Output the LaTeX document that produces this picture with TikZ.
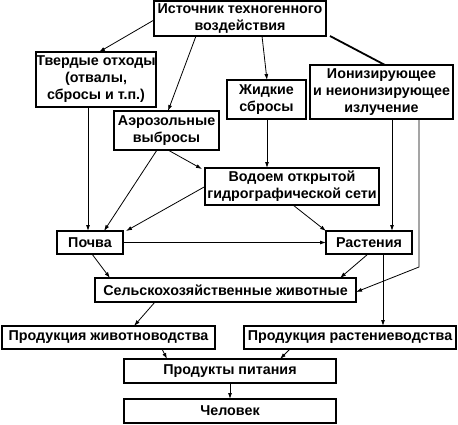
\documentclass[tikz,border=0pt]{standalone}
\usepackage{fontspec}
\setmainfont{Liberation Sans}
\usetikzlibrary{arrows.meta}

\tikzset{
  box/.style={draw, line width=1.8pt, inner sep=0pt, outer sep=0pt, align=center,
    font=\fontsize{14.3}{17}\selectfont\bfseries},
  arr/.style={-{Latex[length=6pt,width=4pt]}, line width=0.8pt},
  thickline/.style={line width=1.8pt}
}

\begin{document}
\begin{tikzpicture}[x=1pt, y=-1pt]
    \useasboundingbox (0,0) rectangle (458,424);
    % boxes
    \node[box, minimum width=172pt, minimum height=35pt] (src) at (240,18.5) {Источник техногенного\\воздействия};
    \node[box, minimum width=120pt, minimum height=55pt] (solid) at (96,79.5) {Твердые отходы\\(отвалы,\\сбросы и т.п.)};
    \node[box, minimum width=105pt, minimum height=39pt] (aero) at (166.5,130.5) {Аэрозольные\\выбросы};
    \node[box, minimum width=79pt, minimum height=39pt] (liquid) at (266.5,99.5) {Жидкие\\сбросы};
    \node[box, minimum width=143pt, minimum height=54pt] (rad) at (381.5,92) {Ионизирующее\\и неионизирующее\\излучение};
    \node[box, minimum width=174pt, minimum height=37pt] (water) at (292,186.5) {Водоем открытой\\гидрографической сети};
    \node[box, minimum width=66pt, minimum height=23pt] (soil) at (90,242.5) {Почва};
    \node[box, minimum width=86pt, minimum height=23pt] (plants) at (369,242.5) {Растения};
    \node[box, minimum width=261pt, minimum height=24pt] (farm) at (225.5,290) {Сельскохозяйственные животные};
    \node[box, minimum width=213pt, minimum height=23pt] (animprod) at (108.5,337.5) {Продукция животноводства};
    \node[box, minimum width=212pt, minimum height=23pt] (plantprod) at (350,337.5) {Продукция растениеводства};
    \node[box, minimum width=212pt, minimum height=24pt] (food) at (230,371) {Продукты питания};
    \node[box, minimum width=212pt, minimum height=24pt] (man) at (230,411) {Человек};

    % connectors
    \draw[arr] ([yshift=-1.5pt]src.west) -- ([xshift=3pt]solid.north);
    \draw[arr] ([xshift=-44pt]src.south) -- ([xshift=1.5pt]aero.north);
    \draw[arr] ([xshift=22pt]src.south) -- ([xshift=0.5pt]liquid.north);
    \draw[thickline] ([xshift=90pt]src.south) -- ([xshift=3.5pt]rad.north);
    \draw[arr] ([xshift=-8pt]solid.south) -- ([xshift=-2pt]soil.north);
    \draw[arr] ([xshift=-9.5pt]aero.south) -- ([xshift=14pt]soil.north);
    \draw[arr] ([xshift=1.5pt]aero.south) -- ([xshift=-3pt,yshift=-1pt]water.north west);
    \draw[arr] ([xshift=0.5pt]liquid.south) -- ([xshift=0.5pt]liquid.south |- water.north);
    \draw[arr] (water.west) -- ([xshift=3pt]soil.north east);
    \draw[arr] ([xshift=1pt]water.south) -- (plants.north west);
    \draw[arr] ([xshift=10.5pt]rad.south) -- ([xshift=10.5pt]rad.south |- plants.north);
    \draw[arr] ([xshift=37.5pt]rad.south) -- ++(0,148) -- ([yshift=-2pt]farm.east);
    \draw[arr] (soil.east) -- (plants.west);
    \draw[arr] ([xshift=2pt]soil.south) -- ([xshift=-115.5pt]farm.north);
    \draw[arr] ([xshift=-1pt]plants.south) -- ([xshift=114.5pt]farm.north);
    \draw[arr] ([xshift=14pt]plants.south) -- ([xshift=14pt]plants.south |- plantprod.north);
    \draw[arr] ([xshift=-70.5pt]farm.south) -- ([xshift=25.5pt]animprod.north);
    \draw[arr] ([xshift=53.5pt]animprod.south) -- ([xshift=-63pt]food.north);
    \draw[arr] ([xshift=-60pt]plantprod.south) -- ([xshift=50pt]food.north);
    \draw[arr] (food.south) -- (man.north);
\end{tikzpicture}
\end{document}
